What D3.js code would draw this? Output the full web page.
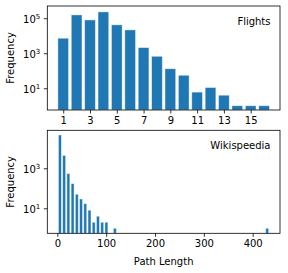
<!DOCTYPE html>
<html lang="en">
  <head>
    <meta charset="UTF-8" />
    <title>Path length histograms</title>
    <style>
      body { margin: 0; background: #fff; }
      svg text { font-family: "DejaVu Sans", sans-serif; fill: #000; }
      .bar { fill: #1f77b4; stroke: #fff; stroke-opacity: 0.55; stroke-width: 0.8px; }
      .frame { fill: none; stroke: #000; stroke-width: 0.8px; }
    </style>
  </head>
  <body>
    <div id="chart"></div>
    <script src="https://cdn.jsdelivr.net/npm/d3@7"></script>
    <script>
      // Flights: frequency per path length
      const flightLengths = [1, 2, 3, 4, 5, 6, 7, 8, 9, 10, 11, 12, 13, 14, 15, 16];
      const flightCounts = [7200, 155000, 80000, 230000, 42000, 21600, 2100, 670, 130, 55, 6, 11, 4, 1, 1, 1];
      const flightTicks = [1, 3, 5, 7, 9, 11, 13, 15];

      // Wikispeedia: non-empty histogram bins (centres, counts)
      const wikiBinWidth = 8.66;
      const wikiCenters = [5.3, 14, 22.6, 31.3, 39.9, 48.6, 57.2, 65.9, 74.5, 83.2, 91.9, 100.5, 117.8, 429.7];
      const wikiCounts = [46000, 4400, 540, 170, 50, 29, 17, 8, 2, 4, 2, 2, 1, 1];
      const wikiTicks = [0, 100, 200, 300, 400];

      const width = 288,
        height = 273;

      let svg = d3
        .select("#chart")
        .append("svg")
        .attr("width", width)
        .attr("height", height);

      const supDigits = { "0": "⁰", "1": "¹", "3": "³", "5": "⁵" };

      function logLabels(g) {
        g.selectAll(".tick text").each(function (d) {
          const e = Math.round(Math.log10(d));
          const t = d3.select(this).text("10");
          t.append("tspan")
            .attr("dy", -4)
            .attr("font-size", 7)
            .text(e);
        });
      }

      function panel(opts) {
        const g = svg.append("g");
        const x = d3.scaleLinear().domain(opts.xDomain).range([47.3, 280]);
        const y = d3.scaleLog().domain(opts.yDomain).range([opts.bottom, opts.top]);

        g.selectAll(".bar")
          .data(opts.xs)
          .enter()
          .append("rect")
          .attr("class", "bar")
          .attr("x", function (d) { return x(d - opts.barWidth / 2); })
          .attr("width", function (d) { return x(d + opts.barWidth / 2) - x(d - opts.barWidth / 2); })
          .attr("y", function (d, i) { return y(opts.ys[i]); })
          .attr("height", function (d, i) { return opts.bottom - y(opts.ys[i]); });

        const xAxis = g
          .append("g")
          .attr("transform", "translate(0," + opts.bottom + ")")
          .call(d3.axisBottom(x).tickValues(opts.xTicks).tickSize(3.5).tickPadding(3.5).tickFormat(d3.format("d")));
        const yAxis = g
          .append("g")
          .attr("transform", "translate(47.3,0)")
          .call(d3.axisLeft(y).tickValues(opts.yTicks).tickSize(3.5).tickPadding(3.5))
          .call(logLabels);

        [xAxis, yAxis].forEach(function (a) {
          a.select(".domain").remove();
          a.selectAll("line").attr("stroke", "#000").attr("stroke-width", 0.8);
          a.selectAll("text").attr("font-size", 10).attr("font-family", "DejaVu Sans");
        });
        yAxis.selectAll(".tick text").attr("dy", "0.45em");

        g.append("rect")
          .attr("class", "frame")
          .attr("x", 47.3)
          .attr("y", opts.top)
          .attr("width", 280 - 47.3)
          .attr("height", opts.bottom - opts.top);

        g.append("text")
          .attr("x", 270.5)
          .attr("y", opts.top + 18.5)
          .attr("text-anchor", "end")
          .attr("font-size", 10)
          .text(opts.title);

        g.append("text")
          .attr("transform", "translate(14," + (opts.top + opts.bottom) / 2 + ") rotate(-90)")
          .attr("text-anchor", "middle")
          .attr("font-size", 10)
          .text("Frequency");
        return x;
      }

      panel({
        top: 6,
        bottom: 110,
        xDomain: [-0.19, 17.19],
        yDomain: [0.57, 5e5],
        xs: flightLengths,
        ys: flightCounts,
        barWidth: 0.8,
        xTicks: flightTicks,
        yTicks: [10, 1e3, 1e5],
        title: "Flights"
      });

      panel({
        top: 130.3,
        bottom: 233.3,
        xDomain: [-20.5, 455.9],
        yDomain: [0.56, 79000],
        xs: wikiCenters,
        ys: wikiCounts,
        barWidth: wikiBinWidth * 0.7,
        xTicks: wikiTicks,
        yTicks: [10, 1e3],
        title: "Wikispeedia"
      });

      svg.append("text")
        .attr("x", (47.3 + 280) / 2)
        .attr("y", 264.5)
        .attr("text-anchor", "middle")
        .attr("font-size", 10)
        .text("Path Length");
    </script>
  </body>
</html>
